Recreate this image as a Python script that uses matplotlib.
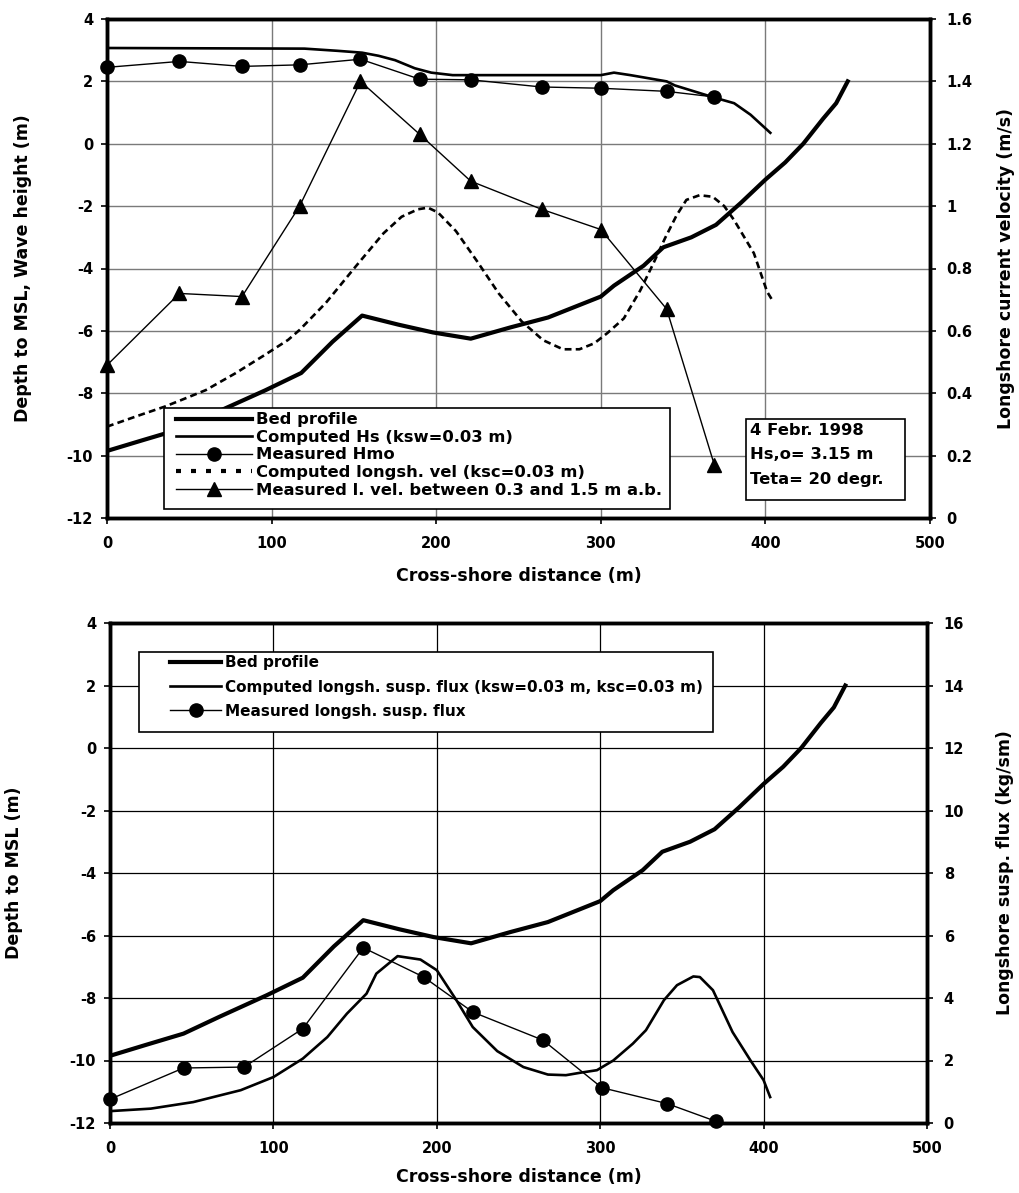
import matplotlib
matplotlib.use("Agg")
import matplotlib.pyplot as plt
from matplotlib.lines import Line2D
from matplotlib.patches import Rectangle
from matplotlib.ticker import FuncFormatter

# ---------------- data ----------------
bed_x = [0, 22, 45, 67, 96, 118, 137, 155, 177, 198, 221, 245, 268, 300, 308,
         326, 338, 355, 370, 385, 400, 412, 423, 435, 443, 450]
bed_y = [-9.85, -9.5, -9.14, -8.6, -7.91, -7.35, -6.35, -5.51, -5.8, -6.05,
         -6.25, -5.89, -5.57, -4.9, -4.55, -3.91, -3.32, -3.0, -2.6, -1.9,
         -1.15, -0.6, 0.0, 0.8, 1.3, 2.0]

hs_x = [0, 120, 140, 155, 165, 175, 187, 197, 210, 300, 308, 318, 340, 345,
        369, 381, 391, 403]
hs_y = [3.07, 3.05, 2.98, 2.92, 2.82, 2.68, 2.42, 2.28, 2.2, 2.2, 2.28, 2.2,
        2.0, 1.87, 1.48, 1.3, 0.93, 0.35]

hmo_x = [0, 44, 82, 117, 154, 190, 221, 264, 300, 340, 369]
hmo_y = [2.45, 2.64, 2.48, 2.53, 2.71, 2.07, 2.05, 1.82, 1.78, 1.68, 1.5]

vel_x = [0, 20, 35, 45, 60, 78, 95, 110, 117, 133, 151, 168, 179, 189, 195,
         201, 212, 225, 238, 252, 265, 277, 287, 296, 304, 314, 324, 332, 339,
         346, 352, 360, 368, 375, 381, 393, 401, 404]
vel_v = [0.293, 0.33, 0.357, 0.378, 0.41, 0.464, 0.52, 0.571, 0.603, 0.69,
         0.806, 0.913, 0.966, 0.99, 0.995, 0.98, 0.92, 0.822, 0.72, 0.63,
         0.57, 0.541, 0.541, 0.56, 0.593, 0.64, 0.73, 0.817, 0.897, 0.97,
         1.02, 1.035, 1.03, 1.0, 0.955, 0.849, 0.726, 0.70]

mvel_x = [0, 44, 82, 117, 154, 190, 221, 264, 300, 340, 369]
mvel_v = [0.49, 0.72, 0.71, 1.0, 1.40, 1.23, 1.08, 0.99, 0.925, 0.67, 0.17]

flux_x = [0, 25, 51, 80, 100, 118, 133, 145, 157, 163, 176, 190, 200, 212,
          222, 237, 253, 268, 279, 288, 298, 308, 320, 328, 339, 347, 357,
          361, 369, 381, 392, 400, 404]
flux_y = [0.38, 0.46, 0.67, 1.05, 1.47, 2.06, 2.75, 3.5, 4.14, 4.78, 5.34,
          5.23, 4.89, 3.93, 3.07, 2.3, 1.79, 1.55, 1.53, 1.61, 1.69, 2.0,
          2.54, 2.97, 3.93, 4.41, 4.69, 4.67, 4.25, 2.91, 2.0, 1.37, 0.83]

mflux_x = [0, 45, 82, 118, 155, 192, 222, 265, 301, 341, 371]
mflux_y = [0.76, 1.76, 1.79, 3.02, 5.61, 4.67, 3.55, 2.65, 1.13, 0.62, 0.05]

x_ticks = [0, 100, 200, 300, 400, 500]
depth_ticks = [4, 2, 0, -2, -4, -6, -8, -10, -12]
vel_ticks = [0, 0.2, 0.4, 0.6, 0.8, 1.0, 1.2, 1.4, 1.6]
flux_ticks = [0, 2, 4, 6, 8, 10, 12, 14, 16]

top_labels = ["Bed profile", "Computed Hs (ksw=0.03 m)", "Measured Hmo",
              "Computed longsh. vel (ksc=0.03 m)",
              "Measured l. vel. between 0.3 and 1.5 m a.b."]
bot_labels = ["Bed profile",
              "Computed longsh. susp. flux (ksw=0.03 m, ksc=0.03 m)",
              "Measured longsh. susp. flux"]
info_text = "4 Febr. 1998\nHs,o= 3.15 m\nTeta= 20 degr."

# ---------------- style ----------------
plt.rcParams['font.family'] = ['DejaVu Sans']
plt.rcParams['font.weight'] = 'bold'
plt.rcParams['axes.unicode_minus'] = False
TICK_FS = 10.5
LABEL_FS = 12.5
TOP_LEG_FS = 11.8
BOT_LEG_FS = 11

W, H = 1019, 1193
fig = plt.figure(figsize=(W / 100, H / 100), dpi=100)


def fx(px):
    return px / W


def fy(py):
    return 1 - py / H


def fmt(v, pos):
    s = ("%.1f" % v)
    if s.endswith(".0"):
        s = s[:-2]
    if s == "-0":
        s = "0"
    return s


def style_axes(ax, twin):
    for a in (ax, twin):
        for sp in a.spines.values():
            sp.set_linewidth(2.5)
        a.tick_params(axis='both', direction='out', length=4, width=1.2,
                      labelsize=TICK_FS, pad=6)
        for lab in a.get_xticklabels() + a.get_yticklabels():
            lab.set_fontweight('bold')
    ax.tick_params(axis='x', pad=9)
    twin.tick_params(axis='y', pad=8)


def box(x0, y0, x1, y1):
    r = Rectangle((fx(x0), fy(y1)), fx(x1) - fx(x0), fy(y0) - fy(y1),
                  transform=fig.transFigure, facecolor='white',
                  edgecolor='black', linewidth=1.2, zorder=5)
    fig.patches.append(r)


# ================= TOP CHART =================
ax1 = fig.add_axes([fx(107), fy(518), (930 - 107) / W, (518 - 19) / H])
ax2 = ax1.twinx()

ax1.set_xlim(0, 500)
ax1.set_ylim(-12, 4)
ax2.set_ylim(0, 1.6)
ax1.set_xticks(x_ticks)
ax1.set_yticks(depth_ticks)
ax2.set_yticks(vel_ticks)
ax2.yaxis.set_major_formatter(FuncFormatter(fmt))
ax1.grid(True, color='#7a7a7a', linewidth=1.0)
ax1.set_axisbelow(True)

ax1.plot(bed_x, bed_y, color='black', lw=3.0, solid_joinstyle='round')
ax1.plot(hs_x, hs_y, color='black', lw=1.9)
ax1.plot(hmo_x, hmo_y, color='black', lw=1.0, marker='o', markersize=9.5,
         clip_on=False, zorder=5)
ax2.plot(vel_x, vel_v, color='black', lw=1.9, linestyle=(0, (2.6, 1.6)))
ax2.plot(mvel_x, mvel_v, color='black', lw=1.0, marker='^', markersize=9.5,
         clip_on=False, zorder=5)

style_axes(ax1, ax2)
ax1.set_xlabel("Cross-shore distance (m)", fontsize=LABEL_FS, fontweight='bold')
ax1.set_ylabel("Depth to MSL, Wave height (m)", fontsize=LABEL_FS,
               fontweight='bold')
ax2.set_ylabel("Longshore current velocity (m/s)", fontsize=LABEL_FS,
               fontweight='bold', rotation=90)
ax1.xaxis.set_label_coords(0.5, -(567 - 518) / 499)
ax1.yaxis.set_label_coords((32 - 107) / 823, 0.5)
ax2.yaxis.set_label_coords((997 - 107) / 823, 0.5)

# top legend (frame drawn as rectangle for exact box)
box(164, 408, 670, 509)
h_top = [
    Line2D([], [], color='black', lw=3.0),
    Line2D([], [], color='black', lw=1.9),
    Line2D([], [], color='black', lw=1.0, marker='o', markersize=9.5),
    Line2D([], [], color='black', lw=3.0, linestyle=(0, (1.2, 2.4))),
    Line2D([], [], color='black', lw=1.0, marker='^', markersize=9.5),
]
fs_px = TOP_LEG_FS * 100 / 72
leg1 = fig.legend(h_top, top_labels, loc='upper left',
                  bbox_to_anchor=(fx(176), fy(420 - 7.6)),
                  prop={'weight': 'bold', 'size': TOP_LEG_FS},
                  handlelength=76 / fs_px, handletextpad=4 / fs_px,
                  labelspacing=0.155,
                  borderpad=0, borderaxespad=0, frameon=False, numpoints=1)
leg1.set_zorder(6)

# info box
box(746, 419, 905, 500)
fig.text(fx(750), fy(455), info_text, fontsize=TOP_LEG_FS, fontweight='bold',
         va='center', ha='left', linespacing=1.76, zorder=7)

# ================= BOTTOM CHART =================
ax3 = fig.add_axes([fx(110), fy(1123), 817 / W, 500 / H])
ax4 = ax3.twinx()
ax3.set_xlim(0, 500)
ax3.set_ylim(-12, 4)
ax4.set_ylim(0, 16)
ax3.set_xticks(x_ticks)
ax3.set_yticks(depth_ticks)
ax4.set_yticks(flux_ticks)
ax3.grid(True, color='black', linewidth=0.9)
ax3.set_axisbelow(True)

ax3.plot(bed_x, bed_y, color='black', lw=3.0)
ax4.plot(flux_x, flux_y, color='black', lw=1.9)
ax4.plot(mflux_x, mflux_y, color='black', lw=1.0, marker='o', markersize=9.5,
         clip_on=False, zorder=5)

style_axes(ax3, ax4)
ax3.set_xlabel("Cross-shore distance (m)", fontsize=LABEL_FS, fontweight='bold')
ax3.set_ylabel("Depth to MSL (m)", fontsize=LABEL_FS, fontweight='bold')
ax4.set_ylabel("Longshore susp. flux (kg/sm)", fontsize=LABEL_FS,
               fontweight='bold', rotation=90)
ax3.xaxis.set_label_coords(0.5, -(1168 - 1123) / 500)
ax3.yaxis.set_label_coords((23 - 110) / 817, 0.5)
ax4.yaxis.set_label_coords((996 - 110) / 817, 0.5)

box(139, 652, 713, 732)
h_bot = [
    Line2D([], [], color='black', lw=3.0),
    Line2D([], [], color='black', lw=1.9),
    Line2D([], [], color='black', lw=1.0, marker='o', markersize=9.5),
]
fs_px2 = BOT_LEG_FS * 100 / 72
leg2 = fig.legend(h_bot, bot_labels, loc='upper left',
                  bbox_to_anchor=(fx(170), fy(663 - fs_px2 / 2)),
                  prop={'weight': 'bold', 'size': BOT_LEG_FS},
                  handlelength=51 / fs_px2, handletextpad=4 / fs_px2,
                  labelspacing=(24.5 - fs_px2) / fs_px2,
                  borderpad=0, borderaxespad=0, frameon=False, numpoints=1)
leg2.set_zorder(6)

fig.savefig("out.png", dpi=100)
